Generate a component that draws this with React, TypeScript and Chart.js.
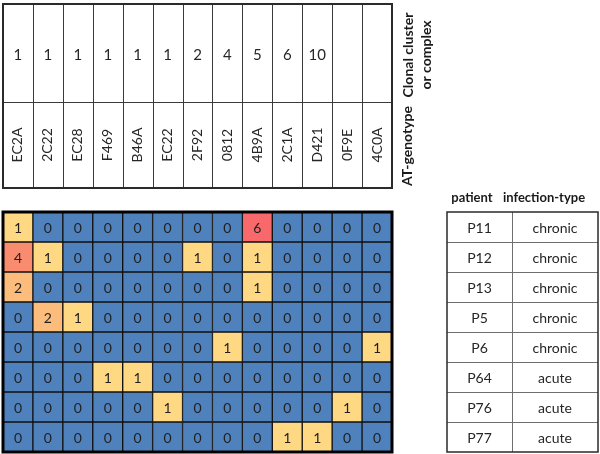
import React, { useEffect, useRef } from "react";
import { Chart, registerables } from "chart.js";
Chart.register(...registerables);

const genotypes = ["EC2A", "2C22", "EC28", "F469", "B46A", "EC22", "2F92", "0812", "4B9A", "2C1A", "D421", "0F9E", "4C0A"];
const clusters = ["1", "1", "1", "1", "1", "1", "2", "4", "5", "6", "10", "", ""];
const patients = ["P11", "P12", "P13", "P5", "P6", "P64", "P76", "P77"];
const infectionTypes = ["chronic", "chronic", "chronic", "chronic", "chronic", "acute", "acute", "acute"];
const countsP11 = [1, 0, 0, 0, 0, 0, 0, 0, 6, 0, 0, 0, 0];
const countsP12 = [4, 1, 0, 0, 0, 0, 1, 0, 1, 0, 0, 0, 0];
const countsP13 = [2, 0, 0, 0, 0, 0, 0, 0, 1, 0, 0, 0, 0];
const countsP5 = [0, 2, 1, 0, 0, 0, 0, 0, 0, 0, 0, 0, 0];
const countsP6 = [0, 0, 0, 0, 0, 0, 0, 1, 0, 0, 0, 0, 1];
const countsP64 = [0, 0, 0, 1, 1, 0, 0, 0, 0, 0, 0, 0, 0];
const countsP76 = [0, 0, 0, 0, 0, 1, 0, 0, 0, 0, 0, 1, 0];
const countsP77 = [0, 0, 0, 0, 0, 0, 0, 0, 0, 1, 1, 0, 0];
const counts = [countsP11, countsP12, countsP13, countsP5, countsP6, countsP64, countsP76, countsP77];

const FONT = "Lato, 'Noto Sans', sans-serif";

function cellColor(v: number): string {
  if (v <= 0) return "#4f81bd";
  if (v === 1) return "#ffd883";
  if (v === 2) return "#fcbc7b";
  if (v <= 4) return "#f98b6f";
  return "#f8696b";
}

const tablesPlugin = {
  id: "tables",
  afterDatasetsDraw(chart: any) {
    const ctx = chart.ctx as CanvasRenderingContext2D;
    const xs = chart.scales.x;
    const ys = chart.scales.y;
    const area = chart.chartArea;
    const n = genotypes.length;
    const cw = (area.right - area.left) / n;

    // cell labels
    ctx.save();
    ctx.font = `14px ${FONT}`;
    ctx.fillStyle = "#1f1f1f";
    ctx.textAlign = "center";
    ctx.textBaseline = "middle";
    chart.data.datasets.forEach((ds: any, di: number) => {
      const meta = chart.getDatasetMeta(di);
      meta.data.forEach((el: any, i: number) => {
        const cy = (el.y + el.base) / 2;
        ctx.fillText(String(counts[di][i]), el.x, cy + 1);
      });
    });
    ctx.restore();

    // heatmap outer border
    ctx.save();
    ctx.strokeStyle = "#000";
    ctx.lineWidth = 3;
    ctx.strokeRect(area.left, area.top, area.right - area.left, area.bottom - area.top);
    ctx.restore();

    // top table
    const tTop = 4;
    const tMid = 102;
    const tBot = 188;
    ctx.save();
    ctx.strokeStyle = "#3a3a3a";
    ctx.lineWidth = 1;
    for (let i = 1; i < n; i++) {
      const x = Math.round(xs.getPixelForValue(i) - cw / 2) + 0.5;
      ctx.beginPath();
      ctx.moveTo(x, tTop);
      ctx.lineTo(x, tBot);
      ctx.stroke();
    }
    ctx.beginPath();
    ctx.moveTo(area.left, tMid + 0.5);
    ctx.lineTo(area.right, tMid + 0.5);
    ctx.stroke();
    ctx.lineWidth = 2;
    ctx.strokeStyle = "#2a2a2a";
    ctx.strokeRect(area.left, tTop, area.right - area.left, tBot - tTop);
    ctx.fillStyle = "#262626";
    ctx.textAlign = "center";
    ctx.textBaseline = "middle";
    ctx.font = `15px ${FONT}`;
    for (let i = 0; i < n; i++) {
      const x = xs.getPixelForValue(i);
      ctx.fillText(clusters[i], x, (tTop + tMid) / 2 + 2);
      ctx.save();
      ctx.translate(x, (tMid + tBot) / 2);
      ctx.rotate(-Math.PI / 2);
      ctx.font = `14px ${FONT}`;
      ctx.fillText(genotypes[i], 0, 0);
      ctx.restore();
    }
    // rotated headers
    ctx.font = `bold 14px ${FONT}`;
    ctx.fillStyle = "#1a1a1a";
    ctx.save();
    ctx.translate(407, (tMid + tBot) / 2 + 1);
    ctx.rotate(-Math.PI / 2);
    ctx.fillText("AT-genotype", 0, 0);
    ctx.restore();
    ctx.save();
    ctx.translate(408, 55);
    ctx.rotate(-Math.PI / 2);
    ctx.fillText("Clonal cluster", 0, 0);
    ctx.restore();
    ctx.save();
    ctx.translate(426, 55);
    ctx.rotate(-Math.PI / 2);
    ctx.fillText("or complex", 0, 0);
    ctx.restore();
    ctx.restore();

    // right table
    const rL = 447;
    const rMid = 512;
    const rR = 598;
    const rTop = ys.getPixelForValue(0);
    const rBot = ys.getPixelForValue(patients.length);
    ctx.save();
    ctx.strokeStyle = "#6e6e6e";
    ctx.lineWidth = 1;
    for (let r = 1; r < patients.length; r++) {
      const y = Math.round(ys.getPixelForValue(r)) + 0.5;
      ctx.beginPath();
      ctx.moveTo(rL, y);
      ctx.lineTo(rR, y);
      ctx.stroke();
    }
    ctx.beginPath();
    ctx.moveTo(rMid + 0.5, rTop);
    ctx.lineTo(rMid + 0.5, rBot);
    ctx.stroke();
    ctx.strokeStyle = "#2a2a2a";
    ctx.lineWidth = 1.5;
    ctx.strokeRect(rL, rTop, rR - rL, rBot - rTop);
    ctx.fillStyle = "#262626";
    ctx.textAlign = "center";
    ctx.textBaseline = "middle";
    ctx.font = `14px ${FONT}`;
    for (let r = 0; r < patients.length; r++) {
      const cy = (ys.getPixelForValue(r) + ys.getPixelForValue(r + 1)) / 2 + 1;
      ctx.fillText(patients[r], (rL + rMid) / 2, cy);
      ctx.fillText(infectionTypes[r], (rMid + rR) / 2, cy);
    }
    ctx.font = `bold 13px ${FONT}`;
    ctx.fillStyle = "#1a1a1a";
    ctx.fillText("patient", 472, 198);
    ctx.fillText("infection-type", 544, 198);
    ctx.restore();
  },
};

export default function App() {
  const ref = useRef<HTMLCanvasElement | null>(null);
  useEffect(() => {
    if (!ref.current) return;
    const datasets = counts.map((row, r) => ({
      label: patients[r],
      data: row.map(() => [r, r + 1]),
      backgroundColor: row.map((v) => cellColor(v)),
      borderColor: "#111",
      borderWidth: 1,
      borderSkipped: false,
      barPercentage: 1,
      categoryPercentage: 1,
      grouped: false,
    }));
    const chart = new Chart(ref.current, {
      type: "bar",
      data: { labels: genotypes, datasets: datasets as any },
      options: {
        responsive: false,
        animation: false,
        layout: { padding: { left: 3, right: 208, top: 212, bottom: 2 } },
        plugins: { legend: { display: false }, tooltip: { enabled: false } },
        scales: {
          x: { type: "category", display: false, offset: true, grid: { display: false } },
          y: { type: "linear", display: false, min: 0, max: patients.length, reverse: true },
        },
      },
      plugins: [tablesPlugin],
    });
    return () => chart.destroy();
  }, []);
  return (
    <div style={{ position: "absolute", left: 0, top: 0, width: 600, height: 454, background: "#fff" }}>
      <canvas ref={ref} width={600} height={454} />
    </div>
  );
}
